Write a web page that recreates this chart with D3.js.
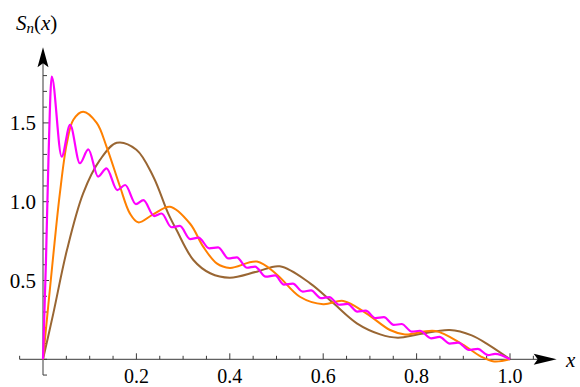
<!DOCTYPE html>
<html>
<head>
<meta charset="utf-8">
<script src="https://cdn.jsdelivr.net/npm/d3@7"></script>
<style>
  body { margin: 0; background: #fff; }
  svg { display: block; }
</style>
</head>
<body>
<svg id="chart" width="580" height="387"></svg>
<script>
// partial sums, [x, S_n(x)]
const brownPts = [
  [0, 0], [0.022, 0.29], [0.051, 0.69], [0.086, 1.053], [0.122, 1.265], [0.158, 1.374],
  [0.2, 1.33], [0.236, 1.16], [0.268, 0.926], [0.286, 0.82], [0.322, 0.63], [0.358, 0.546],
  [0.40, 0.518], [0.458, 0.556], [0.507, 0.59], [0.572, 0.482], [0.622, 0.355], [0.672, 0.228],
  [0.722, 0.158], [0.76, 0.137], [0.807, 0.16], [0.871, 0.186], [0.918, 0.152], [0.955, 0.09], [1, 0]
]
const orangePts = [
  [0, 0], [0.021, 0.63], [0.036, 1.05], [0.051, 1.37], [0.065, 1.52], [0.086, 1.571],
  [0.115, 1.50], [0.136, 1.35], [0.165, 1.095], [0.186, 0.926], [0.204, 0.869], [0.236, 0.92],
  [0.272, 0.968], [0.315, 0.86], [0.343, 0.715], [0.372, 0.609], [0.40, 0.58], [0.458, 0.62],
  [0.50, 0.54], [0.55, 0.397], [0.60, 0.349], [0.643, 0.37], [0.693, 0.29], [0.743, 0.186],
  [0.775, 0.158], [0.84, 0.18], [0.898, 0.095], [0.938, 0.017], [0.966, -0.014], [1, 0]
]
const magentaPts = [
  [0, 0], [0.0064, 0.63], [0.0117, 1.27], [0.0186, 1.793], [0.040, 1.286], [0.058, 1.487],
  [0.079, 1.244], [0.097, 1.332], [0.118, 1.159], [0.136, 1.212], [0.159, 1.074], [0.176, 1.106],
  [0.199, 0.985], [0.215, 1.01], [0.238, 0.909], [0.254, 0.925], [0.275, 0.838], [0.293, 0.846],
  [0.315, 0.763], [0.333, 0.772], [0.356, 0.704], [0.375, 0.71], [0.397, 0.64], [0.415, 0.647],
  [0.437, 0.581], [0.454, 0.588], [0.477, 0.524], [0.497, 0.532], [0.516, 0.474], [0.535, 0.48],
  [0.556, 0.430], [0.574, 0.437], [0.595, 0.388], [0.613, 0.395], [0.634, 0.346], [0.652, 0.352],
  [0.673, 0.303], [0.691, 0.309], [0.712, 0.261], [0.730, 0.267], [0.751, 0.218], [0.768, 0.224],
  [0.790, 0.175], [0.807, 0.181], [0.831, 0.133], [0.849, 0.142], [0.871, 0.100], [0.889, 0.106],
  [0.912, 0.059], [0.931, 0.066], [0.953, 0.027], [0.968, 0.034], [1, 0]
]

const xTickLabels = [0.2, 0.4, 0.6, 0.8, 1.0]
const yTickLabels = [0.5, 1.0, 1.5]

const serif = "'Liberation Serif', 'DejaVu Serif', 'Times New Roman', Times, serif"
const svg = d3.select('#chart')
const x = d3.scaleLinear().domain([0, 1]).range([43, 510])
const y = d3.scaleLinear().domain([0, 1]).range([359.3, 201.7])
const axisColor = '#3a3a3a'

// axis lines
svg.append('line')
  .attr('x1', x(-0.05)).attr('x2', x(1.1) - 4)
  .attr('y1', y(0)).attr('y2', y(0))
  .attr('stroke', axisColor).attr('stroke-width', 1)
svg.append('line')
  .attr('x1', x(0)).attr('x2', x(0))
  .attr('y1', y(-0.1)).attr('y2', y(1.98) + 4)
  .attr('stroke', axisColor).attr('stroke-width', 1)

// arrow heads
const xt = x(1.1), x0 = y(0)
svg.append('path')
  .attr('d', `M${xt},${x0} L${xt - 23},${x0 - 5.5} L${xt - 19},${x0} L${xt - 23},${x0 + 5.5} Z`)
  .attr('fill', '#000')
const yt = y(1.98), y0 = x(0)
svg.append('path')
  .attr('d', `M${y0},${yt} L${y0 - 5.5},${yt + 20} L${y0},${yt + 16} L${y0 + 5.5},${yt + 20} Z`)
  .attr('fill', '#000')

// x ticks (pointing up)
const xMinor = d3.range(-1, 22).map(i => +(i * 0.05).toFixed(2))
svg.append('g')
  .selectAll('line')
  .data(xMinor)
  .enter()
  .append('line')
  .attr('x1', d => x(d)).attr('x2', d => x(d))
  .attr('y1', y(0))
  .attr('y2', d => y(0) - (xTickLabels.some(v => Math.abs(v - d) < 1e-6) ? 6 : 3.5))
  .attr('stroke', axisColor).attr('stroke-width', 1)

svg.append('g')
  .selectAll('text')
  .data(xTickLabels)
  .enter()
  .append('text')
  .attr('x', d => x(d))
  .attr('y', 382.5)
  .attr('text-anchor', 'middle')
  .style('font-family', serif)
  .style('font-size', '20px')
  .text(d => d.toFixed(1))

// y ticks (pointing right)
const yMinor = d3.range(-1, 19).map(i => +(i * 0.1).toFixed(1))
svg.append('g')
  .selectAll('line')
  .data(yMinor)
  .enter()
  .append('line')
  .attr('x1', x(0))
  .attr('x2', d => x(0) + (yTickLabels.some(v => Math.abs(v - d) < 1e-6) ? 6 : 4))
  .attr('y1', d => y(d)).attr('y2', d => y(d))
  .attr('stroke', axisColor).attr('stroke-width', 1)

svg.append('g')
  .selectAll('text')
  .data(yTickLabels)
  .enter()
  .append('text')
  .attr('x', 36)
  .attr('y', d => y(d) + 7.5)
  .attr('text-anchor', 'end')
  .style('font-family', serif)
  .style('font-size', '21px')
  .text(d => d.toFixed(1))

// axis titles
const yTitle = svg.append('text').attr('x', 16).attr('y', 29.5)
  .style('font-family', serif).style('font-size', '21px')
yTitle.append('tspan').style('font-style', 'italic').text('S')
yTitle.append('tspan').style('font-style', 'italic').style('font-size', '15px').attr('dy', 3).text('n')
yTitle.append('tspan').attr('dy', -3).text('(')
yTitle.append('tspan').style('font-style', 'italic').text('x')
yTitle.append('tspan').text(')')

svg.append('text')
  .attr('x', 566).attr('y', 367)
  .style('font-family', serif)
  .style('font-size', '21px').style('font-style', 'italic')
  .text('x')

// curves
const smooth = d3.line().x(d => x(d[0])).y(d => y(d[1])).curve(d3.curveCatmullRom.alpha(0.5))
const wiggly = d3.line().x(d => x(d[0])).y(d => y(d[1])).curve(d3.curveMonotoneX)

svg.append('path').attr('d', smooth(brownPts))
  .attr('fill', 'none').attr('stroke', '#996633').attr('stroke-width', 2)
svg.append('path').attr('d', smooth(orangePts))
  .attr('fill', 'none').attr('stroke', '#ff8000').attr('stroke-width', 2)
svg.append('path').attr('d', wiggly(magentaPts))
  .attr('fill', 'none').attr('stroke', '#ff00ff').attr('stroke-width', 2.2)
</script>
</body>
</html>
